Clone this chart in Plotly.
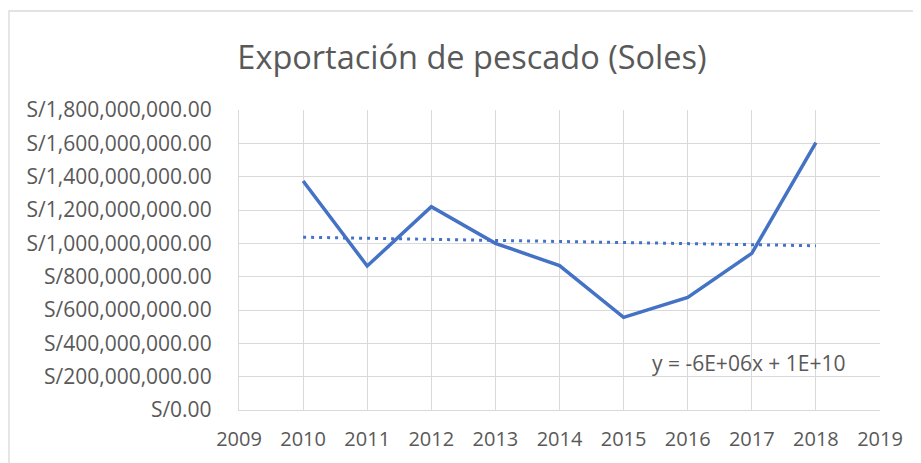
import numpy as np
import plotly.graph_objects as go

years = [2010, 2011, 2012, 2013, 2014, 2015, 2016, 2017, 2018]
exports = [1.374e9, 0.864e9, 1.220e9, 1.000e9, 0.866e9, 0.556e9, 0.676e9, 0.940e9, 1.604e9]
title_text = "Exportación de pescado (Soles)"
equation_text = "y = -6E+06x + 1E+10"

coef = np.polyfit(years, exports, 1)
trend = np.polyval(coef, years)

FONT = "Open Sans"
GRAY = "#595959"
BLUE = "#4472C4"

fig = go.Figure()
fig.add_trace(go.Scatter(x=years, y=trend, mode="lines",
                         line=dict(color=BLUE, width=3, dash="3px,5px"),
                         showlegend=False, hoverinfo="skip"))
fig.add_trace(go.Scatter(x=years, y=exports, mode="lines",
                         line=dict(color=BLUE, width=3.5),
                         showlegend=False))

OFF = 8  # page body margin
WIN_W, WIN_H = 921, 463
W, H = WIN_W - OFF, WIN_H - OFF
# target plot area in window pixels
PX0, PX1, PY0, PY1 = 239, 880, 110, 410
L, T = PX0 - OFF, PY0 - OFF
R, B = WIN_W - PX1, WIN_H - PY1
pw, ph = PX1 - PX0, PY1 - PY0


def px(x):
    return (x - PX0) / pw


def py(y):
    return (PY1 - y) / ph


fig.update_layout(
    width=W, height=H,
    margin=dict(l=L, r=R, t=T, b=B),
    paper_bgcolor="white", plot_bgcolor="white",
    font=dict(family=FONT, color=GRAY, size=20),
    title=dict(text=title_text, x=(472 - OFF) / W, xanchor="center",
               y=1 - (58 - OFF) / H, yanchor="middle", yref="container",
               font=dict(family=FONT, size=32.5, color=GRAY)),
    xaxis=dict(range=[2009, 2019], dtick=1, tick0=2009,
               showgrid=True, gridcolor="#D9D9D9", gridwidth=1.3,
               showline=True, linecolor="#D9D9D9", linewidth=1.3,
               zeroline=False, ticks="", ticklabelstandoff=11,
               tickfont=dict(family=FONT, size=20, color=GRAY)),
    yaxis=dict(range=[0, 1.8e9], dtick=2e8,
               tickprefix="S/", tickformat=",.2f",
               showgrid=True, gridcolor="#D9D9D9", gridwidth=1.3,
               showline=True, linecolor="#D9D9D9", linewidth=1.3,
               zeroline=False, ticks="", ticklabelstandoff=22,
               tickfont=dict(family=FONT, size=21, color=GRAY)),
    annotations=[dict(text=equation_text, xref="paper", yref="paper",
                      x=px(749), y=py(363),
                      xanchor="center", yanchor="middle", showarrow=False,
                      font=dict(family=FONT, size=21, color=GRAY))],
    shapes=[dict(type="rect", xref="paper", yref="paper",
                 x0=px(9), x1=px(WIN_W + 10),
                 y0=py(WIN_H + 10), y1=py(11),
                 line=dict(color="#D9D9D9", width=1.3), layer="below")],
)

fig.write_html("out.html")
